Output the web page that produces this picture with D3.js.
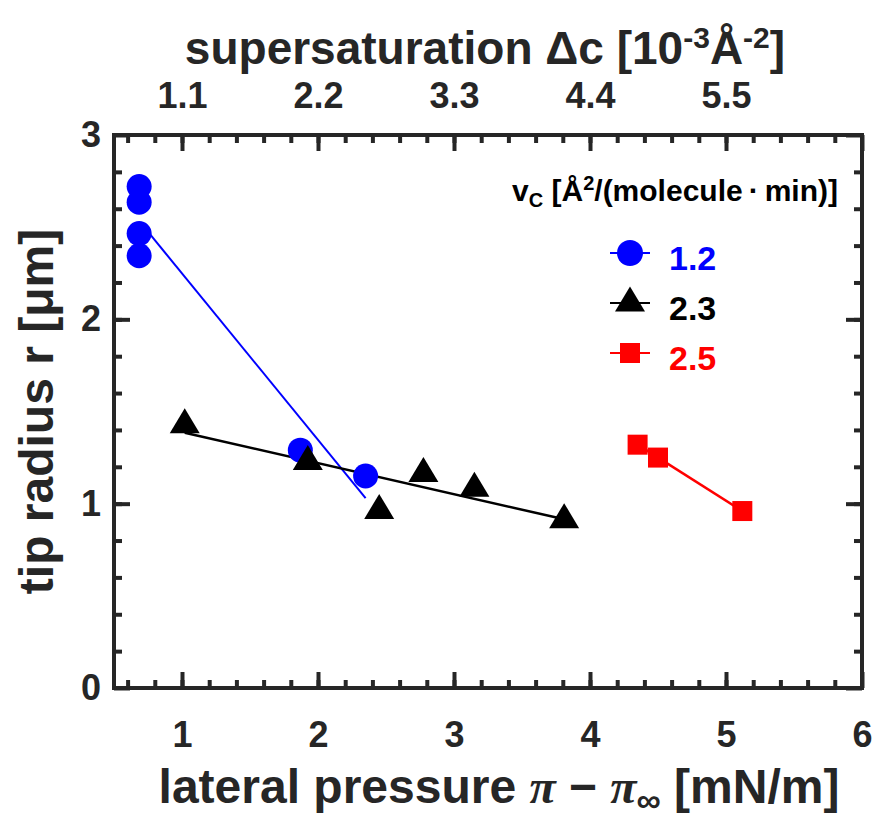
<!DOCTYPE html>
<html>
<head>
<meta charset="utf-8">
<script src="https://cdn.jsdelivr.net/npm/d3@7"></script>
<style>
  body { margin: 0; background: #fff; }
  .lab { font-family: "Liberation Sans", Arial, sans-serif; font-weight: bold; }
</style>
</head>
<body>
<div id="chart"></div>
<script>
// data
const blueX = [0.685, 0.685, 0.685, 0.685, 1.87, 2.35];
const blueY = [2.72, 2.635, 2.465, 2.345, 1.29, 1.15];
const blackX = [1.02, 1.925, 2.45, 2.775, 3.15, 3.81];
const blackY = [1.45, 1.25, 0.985, 1.185, 1.105, 0.935];
const redX = [4.35, 4.5, 5.12];
const redY = [1.32, 1.25, 0.96];

// fitted lines (end points)
const blueFitX = [0.7, 2.35], blueFitY = [2.52, 1.03];
const blackFitX = [1.02, 3.81], blackFitY = [1.385, 0.915];
const redFitX = [4.35, 5.12], redFitY = [1.32, 0.96];

const legendLabels = ["1.2", "2.3", "2.5"];
const xTicks = [1, 2, 3, 4, 5, 6];
const topTicks = [1.1, 2.2, 3.3, 4.4, 5.5, 6.6];
const yTicks = [0, 1, 2, 3];

const margin = { top: 135, right: 13, bottom: 137, left: 114 },
  width = 875 - margin.left - margin.right,
  height = 825 - margin.top - margin.bottom;

const svg = d3.select("#chart").append("svg")
  .attr("width", 875).attr("height", 825);
const g = svg.append("g")
  .attr("transform", "translate(" + margin.left + "," + margin.top + ")");

const x = d3.scaleLinear().domain([0.5, 6]).range([0, width]);
const x2 = d3.scaleLinear().domain([0.55, 6.6]).range([0, width]);
const y = d3.scaleLinear().domain([0, 3]).range([height, 0]);

const axisColor = "#262626";
const minor = (lo, hi, step) => d3.range(Math.round((hi - lo) / step) + 1).map(i => +(lo + i * step).toFixed(3));

function styleAxis(sel, size) {
  sel.select(".domain").remove();
  sel.selectAll("line").attr("stroke", axisColor).attr("stroke-width", 4);
  sel.selectAll("text").attr("class", "lab").attr("fill", axisColor)
    .style("font-size", size + "px");
}

// minor ticks
g.append("g").attr("transform", "translate(0," + height + ")")
  .call(d3.axisBottom(x).tickValues(minor(0.6, 5.8, 0.2)).tickSize(-8).tickFormat(""))
  .call(s => styleAxis(s, 30));
g.append("g")
  .call(d3.axisTop(x2).tickValues(minor(0.66, 6.38, 0.22)).tickSize(-8).tickFormat(""))
  .call(s => styleAxis(s, 30));
g.append("g")
  .call(d3.axisLeft(y).tickValues(minor(0.2, 2.8, 0.2)).tickSize(-8).tickFormat(""))
  .call(s => styleAxis(s, 30));
g.append("g").attr("transform", "translate(" + width + ",0)")
  .call(d3.axisRight(y).tickValues(minor(0.2, 2.8, 0.2)).tickSize(-8).tickFormat(""))
  .call(s => styleAxis(s, 30));

// major ticks
g.append("g").attr("transform", "translate(0," + height + ")")
  .call(d3.axisBottom(x).tickValues(xTicks).tickSize(-16).tickPadding(33).tickFormat(d3.format("d")))
  .call(s => styleAxis(s, 36));
g.append("g")
  .call(d3.axisTop(x2).tickValues(topTicks).tickSize(-16).tickPadding(27)
    .tickFormat(d => d > 6 ? "" : d3.format(".1f")(d)))
  .call(s => styleAxis(s, 36));
g.append("g")
  .call(d3.axisLeft(y).tickValues(yTicks).tickSize(-16).tickPadding(13).tickFormat(d3.format("d")))
  .call(s => styleAxis(s, 36));
g.append("g").attr("transform", "translate(" + width + ",0)")
  .call(d3.axisRight(y).tickValues(yTicks).tickSize(-16).tickFormat(""))
  .call(s => styleAxis(s, 36));

// frame
g.append("rect").attr("width", width).attr("height", height)
  .attr("fill", "none").attr("stroke", axisColor).attr("stroke-width", 4);

// fit lines
const line = d3.line().x(d => x(d[0])).y(d => y(d[1]));
function fit(xs, ys, color, w) {
  g.append("path").datum(xs.map((v, i) => [v, ys[i]]))
    .attr("d", line).attr("fill", "none").attr("stroke", color).attr("stroke-width", w);
}
fit(blueFitX, blueFitY, "#0000ff", 2);
fit(blackFitX, blackFitY, "#000000", 2.5);
fit(redFitX, redFitY, "#ff0000", 2.5);

// markers
const tri = "M0,-12.5L15,12.5L-15,12.5Z";
g.selectAll(null).data(blueX.map((v, i) => [v, blueY[i]])).enter().append("circle")
  .attr("cx", d => x(d[0])).attr("cy", d => y(d[1])).attr("r", 12.5).attr("fill", "#0000ff");
g.selectAll(null).data(blackX.map((v, i) => [v, blackY[i]])).enter().append("path")
  .attr("d", tri).attr("fill", "#000")
  .attr("transform", d => "translate(" + x(d[0]) + "," + y(d[1]) + ")");
g.selectAll(null).data(redX.map((v, i) => [v, redY[i]])).enter().append("rect")
  .attr("x", d => x(d[0]) - 10).attr("y", d => y(d[1]) - 10)
  .attr("width", 20).attr("height", 20).attr("fill", "#ff0000");

// legend
const lg = svg.append("g");
const lt = lg.append("text").attr("class", "lab").attr("x", 838).attr("y", 201)
  .attr("text-anchor", "end").style("font-size", "30px").attr("fill", "#000");
lt.append("tspan").text("v");
lt.append("tspan").attr("baseline-shift", "-30%").style("font-size", "20px").text("C");
lt.append("tspan").text(" [Å");
lt.append("tspan").attr("baseline-shift", "super").style("font-size", "20px").text("2");
lt.append("tspan").text("/(molecule\u2009·\u2009min)]");

const legendColors = ["#0000ff", "#000000", "#ff0000"];
const legendY = [253, 303, 353];
legendLabels.forEach((lab, i) => {
  const ly = legendY[i];
  lg.append("line").attr("x1", 610).attr("x2", 650).attr("y1", ly).attr("y2", ly)
    .attr("stroke", legendColors[i]).attr("stroke-width", 2);
  if (i === 0) lg.append("circle").attr("cx", 630).attr("cy", ly).attr("r", 13).attr("fill", legendColors[i]);
  if (i === 1) lg.append("path").attr("d", tri).attr("fill", "#000").attr("transform", "translate(630," + (ly - 4) + ")");
  if (i === 2) lg.append("rect").attr("x", 620).attr("y", ly - 10).attr("width", 20).attr("height", 20).attr("fill", legendColors[i]);
  lg.append("text").attr("class", "lab").attr("x", 669).attr("y", ly + 5).attr("dy", "0.36em")
    .style("font-size", "34px").attr("fill", legendColors[i]).text(lab);
});

// axis titles
const tt = svg.append("text").attr("class", "lab").attr("x", 485).attr("y", 64)
  .attr("text-anchor", "middle").style("font-size", "46px").attr("fill", axisColor);
tt.append("tspan").text("supersaturation Δc [10");
tt.append("tspan").attr("baseline-shift", "super").style("font-size", "30px").text("-3");
tt.append("tspan").text("Å");
tt.append("tspan").attr("baseline-shift", "super").style("font-size", "30px").text("-2");
tt.append("tspan").text("]");

const bt = svg.append("text").attr("class", "lab").attr("x", 499).attr("y", 803)
  .attr("text-anchor", "middle").style("font-size", "48px").attr("fill", axisColor);
bt.append("tspan").text("lateral pressure ");
bt.append("tspan").style("font-family", "'Liberation Serif', serif").style("font-style", "italic").text("π");
bt.append("tspan").text(" − ");
bt.append("tspan").style("font-family", "'Liberation Serif', serif").style("font-style", "italic").text("π");
bt.append("tspan").attr("baseline-shift", "-25%").style("font-size", "34px").text("∞");
bt.append("tspan").text(" [mN/m]");

svg.append("text").attr("class", "lab")
  .attr("transform", "translate(53," + (margin.top + height / 2) + ") rotate(-90)")
  .attr("text-anchor", "middle").style("font-size", "48px").attr("fill", axisColor)
  .text("tip radius r [μm]");
</script>
</body>
</html>
